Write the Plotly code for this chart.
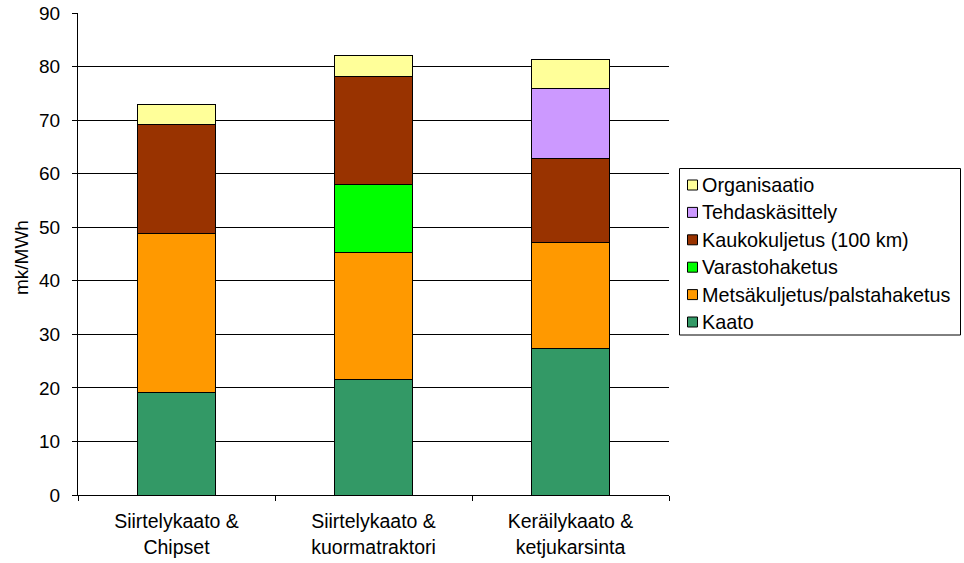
import plotly.graph_objects as go

# Harvesting chains and cost components (mk/MWh)
categories = ["Siirtelykaato &<br>Chipset",
              "Siirtelykaato &<br>kuormatraktori",
              "Keräilykaato &<br>ketjukarsinta"]

kaato = [19.1, 21.6, 27.4]
metsakuljetus = [29.8, 23.7, 19.8]
varastohaketus = [0.0, 12.6, 0.0]
kaukokuljetus = [20.2, 20.2, 15.6]
tehdaskasittely = [0.0, 0.0, 13.1]
organisaatio = [3.9, 4.0, 5.4]

series_names = ["Kaato", "Metsäkuljetus/palstahaketus", "Varastohaketus",
                "Kaukokuljetus (100 km)", "Tehdaskäsittely", "Organisaatio"]
series_values = [kaato, metsakuljetus, varastohaketus,
                 kaukokuljetus, tehdaskasittely, organisaatio]
series_colors = ["#339966", "#FF9900", "#00FF00", "#993300", "#CC99FF", "#FFFF99"]

y_ticks = list(range(0, 91, 10))

W, H = 964, 563
L, R, T, B = 78, 295, 13, 68
plot_w = W - L - R
plot_h = H - T - B

FONT = "Liberation Sans, Arial, sans-serif"

fig = go.Figure()
for name, vals, col in zip(series_names, series_values, series_colors):
    fig.add_trace(go.Bar(
        x=categories, y=vals, name=name,
        marker=dict(color=col, line=dict(color="#000000", width=1)),
        showlegend=False,
    ))


def px_x(px):
    return (px - L) / plot_w


def px_y(py):
    return (H - B - py) / plot_h


# Legend box drawn with shapes/annotations (top entry = last series)
shapes = [dict(type="rect", xref="paper", yref="paper",
               x0=px_x(679.5), x1=px_x(960.5), y0=px_y(335), y1=px_y(168.5),
               line=dict(color="#000000", width=1), fillcolor="white", layer="above")]
annotations = []
item_top = 185.0
item_step = 27.4
for i, (name, col) in enumerate(reversed(list(zip(series_names, series_colors)))):
    cy = item_top + i * item_step
    shapes.append(dict(type="rect", xref="paper", yref="paper",
                       x0=px_x(687.5), x1=px_x(697.5), y0=px_y(cy + 5), y1=px_y(cy - 5),
                       line=dict(color="#000000", width=1), fillcolor=col, layer="above"))
    annotations.append(dict(xref="paper", yref="paper", x=px_x(700), y=px_y(cy),
                            xanchor="left", yanchor="middle", text=name, showarrow=False,
                            font=dict(family=FONT, size=19.8, color="#000000")))

# Y-axis title
annotations.append(dict(xref="paper", yref="paper", x=px_x(21), y=px_y(258),
                        xanchor="center", yanchor="middle", text="mk/MWh", textangle=-90,
                        showarrow=False, font=dict(family=FONT, size=19, color="#000000")))

fig.update_layout(
    width=W, height=H,
    margin=dict(l=L, r=R, t=T, b=B, pad=0, autoexpand=False),
    barmode="stack", bargap=0.6,
    plot_bgcolor="white", paper_bgcolor="white",
    font=dict(family=FONT, size=19, color="#000000"),
    shapes=shapes, annotations=annotations,
    showlegend=False,
)
fig.update_xaxes(
    automargin=False,
    showline=True, linecolor="#000000", linewidth=1,
    ticks="outside", tickson="boundaries", ticklen=5, tickcolor="#000000",
    ticklabelstandoff=9,
    tickfont=dict(family=FONT, size=19.5), showgrid=False,
)
fig.update_yaxes(
    automargin=False,
    range=[0, 90], tickvals=y_ticks, ticktext=[str(v) for v in y_ticks],
    showline=True, linecolor="#000000", linewidth=1,
    ticks="outside", ticklen=5, tickcolor="#000000", ticklabelstandoff=8,
    showgrid=True, gridcolor="#000000", gridwidth=1, zeroline=False,
    tickfont=dict(family=FONT, size=19),
)

fig.write_html("out.html")
